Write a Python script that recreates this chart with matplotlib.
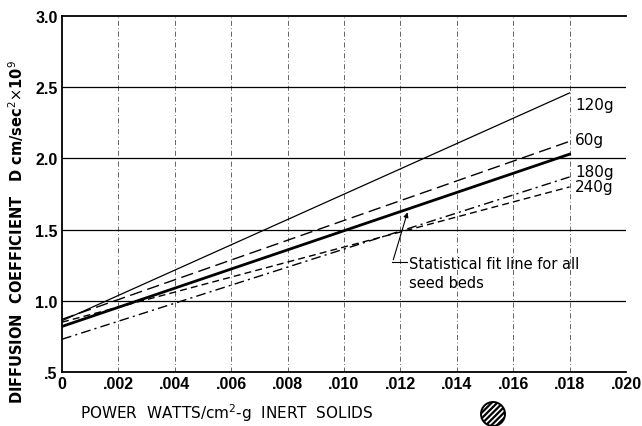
import matplotlib
matplotlib.use("Agg")
import matplotlib.pyplot as plt
from matplotlib.patches import Ellipse

# power (watts/cm^2-g inert solids) at the two ends of each fitted line
x_ends = [0.0, 0.018]

# diffusion coefficient D x 10^9 at each end
d_120g = [0.86, 2.46]
d_60g = [0.87, 2.12]
d_fit = [0.82, 2.03]
d_180g = [0.73, 1.87]
d_240g = [0.85, 1.80]

line_labels = ["120g", "60g", "180g", "240g"]
label_y = [2.38, 2.13, 1.91, 1.80]

xticks = [0, .002, .004, .006, .008, .010, .012, .014, .016, .018, .020]
xtick_labels = ["0", ".002", ".004", ".006", ".008", ".010", ".012", ".014", ".016", ".018", ".020"]
yticks = [0.5, 1.0, 1.5, 2.0, 2.5, 3.0]
ytick_labels = [".5", "1.0", "1.5", "2.0", "2.5", "3.0"]

plt.rcParams["hatch.linewidth"] = 1.6

fig = plt.figure(figsize=(6.42, 4.27), dpi=100)
ax = fig.add_axes([0.0966, 0.1265, 0.8784, 0.8335])
ax.set_xlim(0, 0.020)
ax.set_ylim(0.5, 3.0)

# grid: dash-dot verticals, solid horizontals
for xv in xticks[1:]:
    ax.axvline(xv, color="black", lw=0.6, ls=(0, (6, 3, 1, 3)), alpha=0.7, zorder=1)
for yv in yticks[1:-1]:
    ax.axhline(yv, color="black", lw=0.9, zorder=1)

# the curves
ax.plot(x_ends, d_120g, color="black", lw=0.9)
ax.plot(x_ends, d_60g, color="black", lw=1.0, ls=(0, (9, 4)))
ax.plot(x_ends, d_fit, color="black", lw=2.0)
ax.plot(x_ends, d_180g, color="black", lw=1.0, ls=(0, (7, 3, 1.5, 3)))
ax.plot(x_ends, d_240g, color="black", lw=1.0, ls=(0, (5, 3)))

for lab, yv in zip(line_labels, label_y):
    ax.text(0.0182, yv, lab, fontsize=11, va="center", ha="left")

# annotation for the fit line
ax.plot([0.01222, 0.01172], [1.27, 1.27], color="black", lw=0.8)
ax.annotate("", xy=(0.01228, 1.64), xytext=(0.01172, 1.27),
            arrowprops=dict(arrowstyle="-|>", color="black", lw=0.8, mutation_scale=7))
ax.text(0.01232, 1.315, "Statistical fit line for all\nseed beds", fontsize=10.5,
        va="top", ha="left", linespacing=1.3)

ax.set_xticks(xticks)
ax.set_xticklabels(xtick_labels, fontsize=11.5, fontweight="bold", family="Liberation Sans")
ax.set_yticks(yticks)
ax.set_yticklabels(ytick_labels, fontsize=11.5, fontweight="bold", family="Liberation Sans")
ax.tick_params(length=0, pad=3)
ax.spines["right"].set_visible(False)
for s in ["left", "bottom", "top"]:
    ax.spines[s].set_linewidth(1.3)

fig.text(0.025, 0.457, r"DIFFUSION  COEFFICIENT   D cm/sec$^2$$\times$10$^9$", rotation=90,
         fontsize=10.5, fontweight="bold", va="center", ha="center")
fig.text(0.125, 0.033, "POWER  WATTS/cm$^2$-g  INERT  SOLIDS", fontsize=11,
         va="center", ha="left")

circ = Ellipse((493 / 642, 1 - 415 / 427), 24 / 642, 24 / 427, transform=fig.transFigure,
               facecolor="white", edgecolor="black", hatch="//////", lw=1.4)
fig.patches.append(circ)

fig.savefig("out.png", dpi=100)
